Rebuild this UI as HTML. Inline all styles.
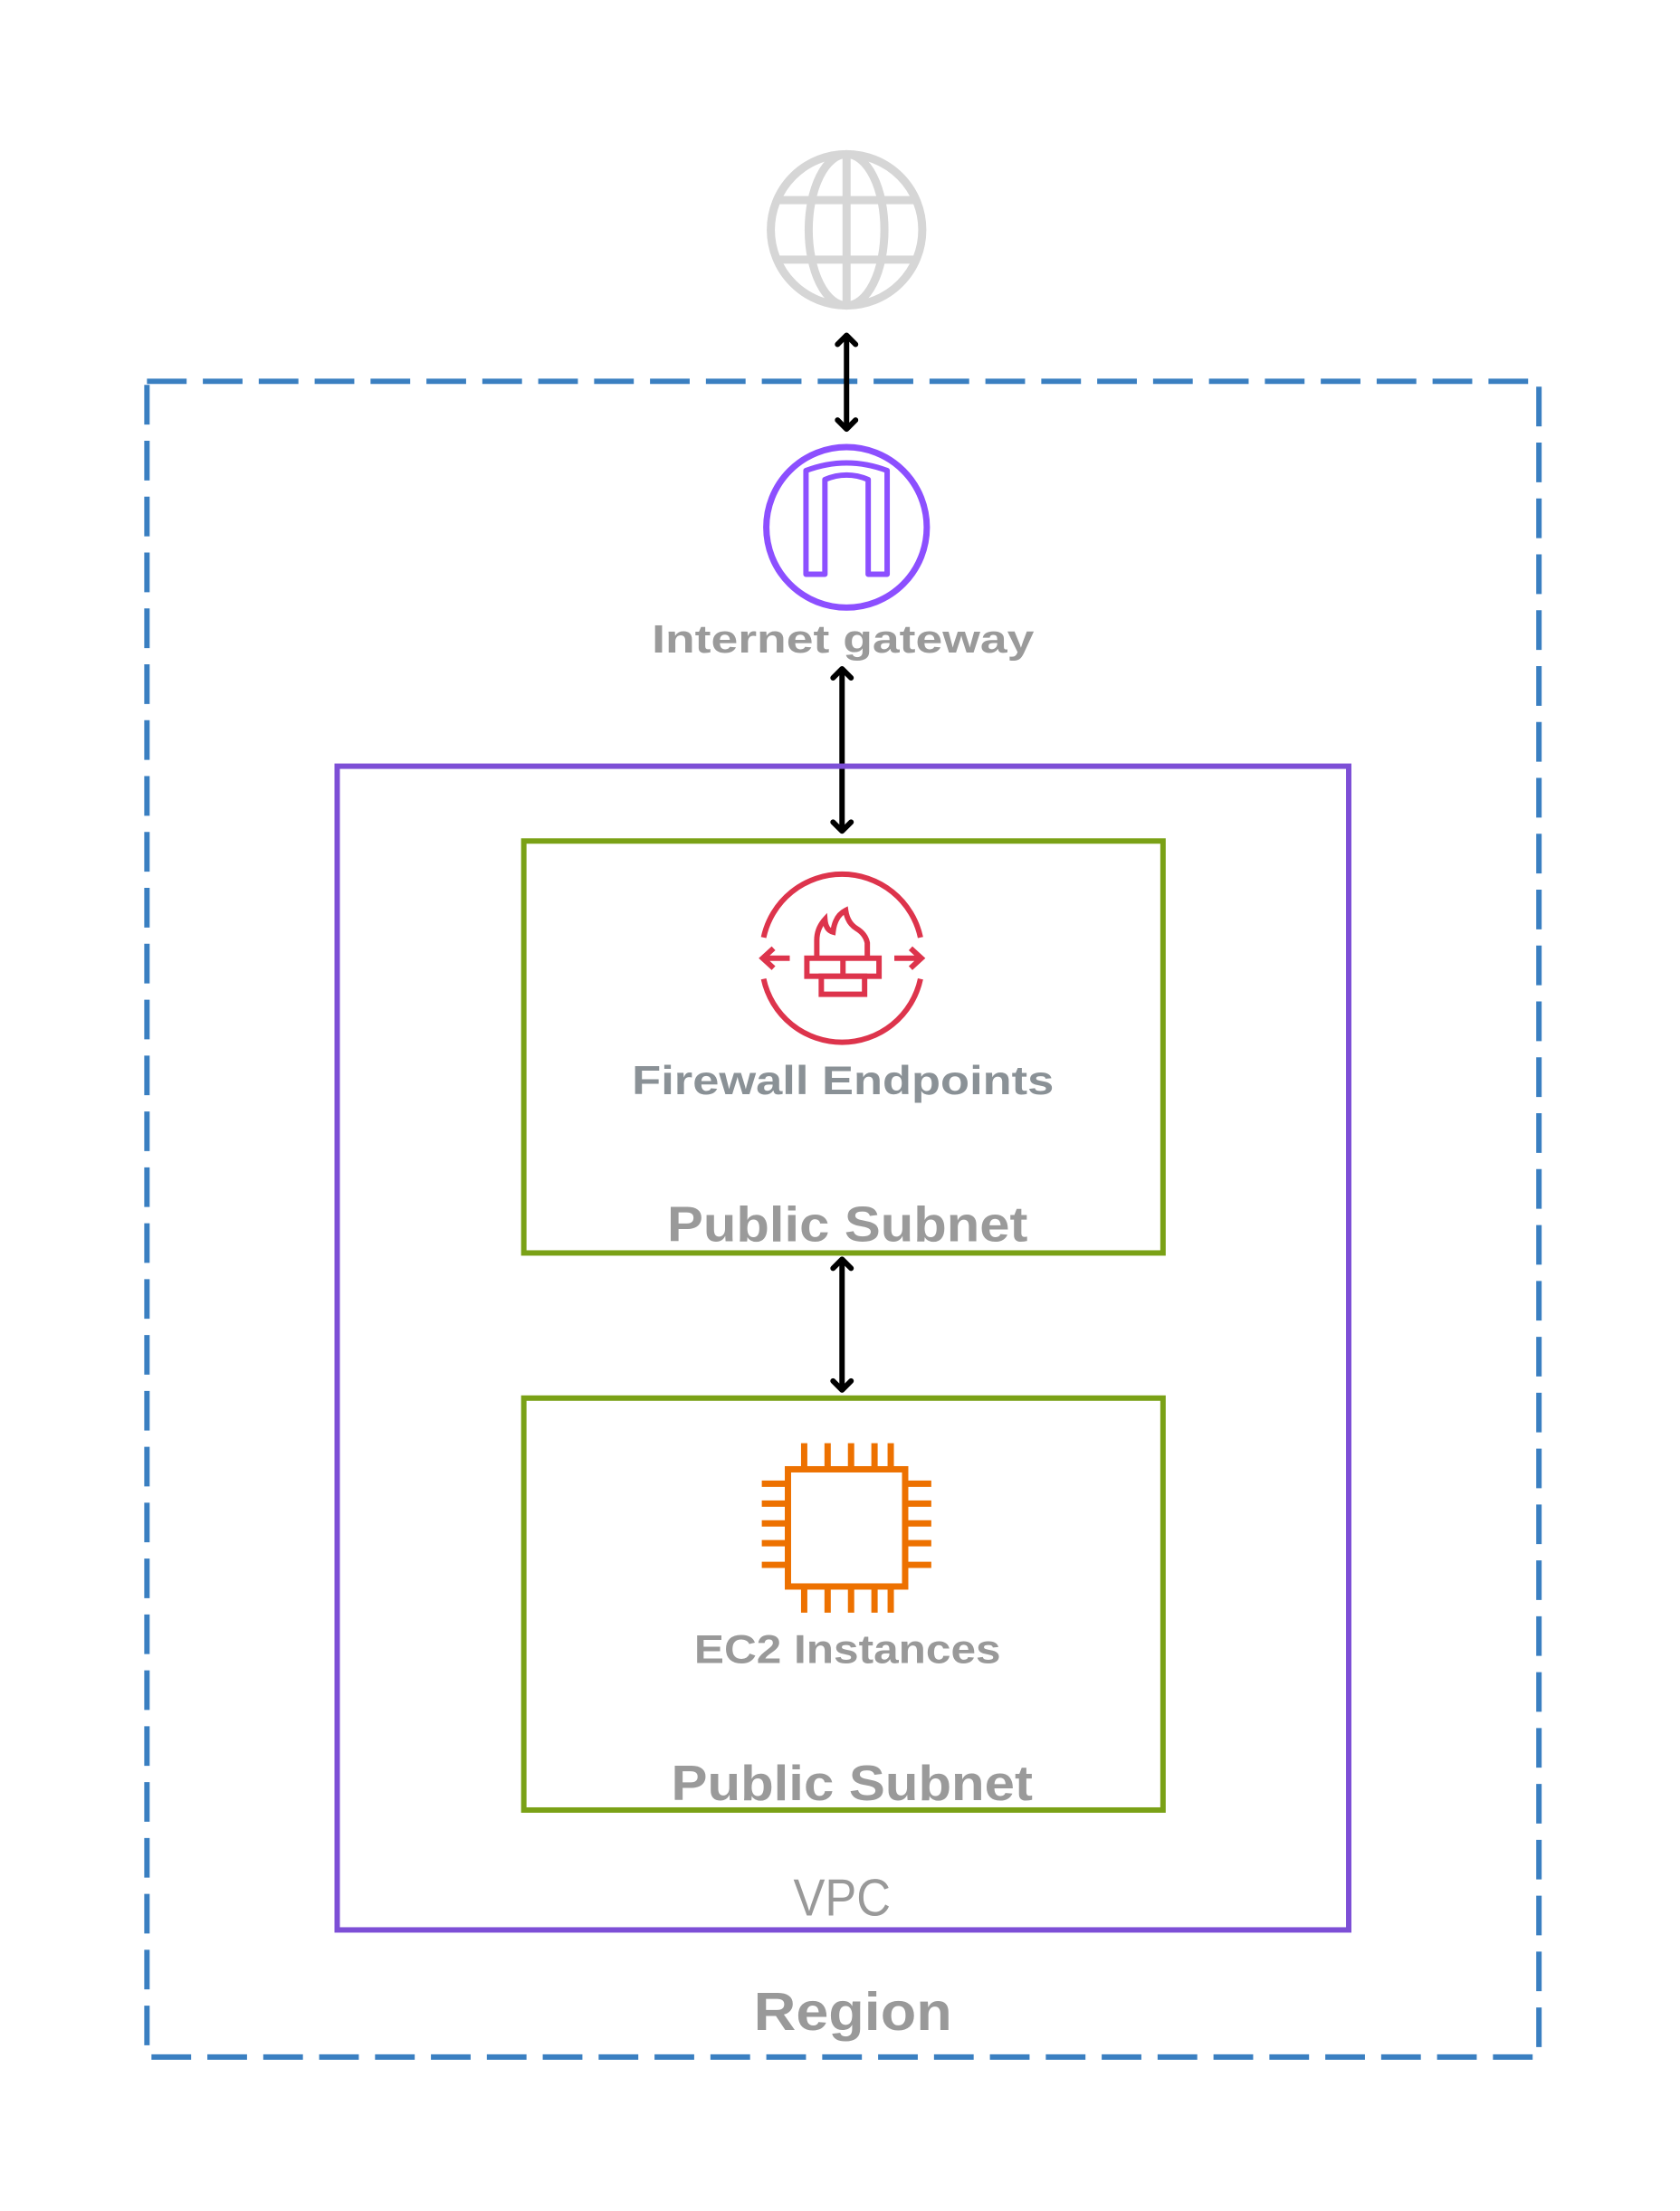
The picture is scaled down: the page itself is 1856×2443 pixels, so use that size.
<!DOCTYPE html>
<html><head><meta charset="utf-8"><style>
html,body{margin:0;padding:0;background:#fff;}
svg{display:block;}
text{font-family:"Liberation Sans",sans-serif;font-weight:bold;text-anchor:middle;}
</style></head><body>
<svg width="1856" height="2443" viewBox="0 0 1856 2443" xmlns="http://www.w3.org/2000/svg">
<defs>
<marker id="ah" viewBox="0 0 30 30" refX="16" refY="15" markerWidth="30" markerHeight="30" markerUnits="userSpaceOnUse" orient="auto-start-reverse">
<path d="M6,5 L16,15 L6,25" fill="none" stroke="#000" stroke-width="6" stroke-linecap="round" stroke-linejoin="round"/>
</marker>
</defs>
<g transform="scale(0.996)">
<!-- Region -->
<rect x="163" y="423" width="1544" height="1859" fill="none" stroke="#3a7fc1" stroke-width="6" stroke-dasharray="44 18"/>
<!-- Globe -->
<g fill="none" stroke="#d6d6d6" stroke-width="9">
<circle cx="939" cy="255" r="84"/>
<ellipse cx="939" cy="255" rx="42" ry="84"/>
<line x1="939" y1="171" x2="939" y2="339"/>
<line x1="862" y1="222" x2="1016" y2="222"/>
<line x1="862" y1="288" x2="1016" y2="288"/>
</g>
<!-- arrow 1 -->
<line x1="939" y1="372" x2="939" y2="476" stroke="#000" stroke-width="6" marker-start="url(#ah)" marker-end="url(#ah)"/>
<!-- IGW -->
<circle cx="939" cy="585" r="89" fill="none" stroke="#8c4fff" stroke-width="7"/>
<path d="M894,637 V522 Q939,505 984,522 V637 H963 V532 Q939,522 915,532 V637 Z" fill="none" stroke="#8c4fff" stroke-width="6" stroke-linejoin="round"/>
<text x="935" y="724" font-size="44" fill="#9a9a9a" textLength="424" lengthAdjust="spacingAndGlyphs">Internet gateway</text>
<!-- arrow 2 -->
<line x1="934" y1="742" x2="934" y2="922" stroke="#000" stroke-width="6" marker-start="url(#ah)" marker-end="url(#ah)"/>
<!-- VPC -->
<rect x="374" y="850" width="1122" height="1291" fill="none" stroke="#7d4fd6" stroke-width="6"/>
<text x="934" y="2125" font-size="58" font-weight="normal" style="font-weight:normal" fill="#999" textLength="108" lengthAdjust="spacingAndGlyphs">VPC</text>
<!-- Subnet 1 -->
<rect x="581" y="933" width="709" height="457" fill="none" stroke="#7aa116" stroke-width="6"/>
<g fill="none" stroke="#dd344c" stroke-width="6">
<path d="M847,1040 A89,89 0 0 1 1021,1040"/>
<path d="M847,1086 A89,89 0 0 0 1021,1086"/>
<path d="M845,1063 H876 M858,1052 L846,1063 L858,1074"/>
<path d="M992,1063 H1023 M1010,1052 L1022,1063 L1010,1074"/>
<rect x="895" y="1063" width="80" height="20"/>
<rect x="911" y="1083" width="48" height="20"/>
<line x1="935" y1="1063" x2="935" y2="1083"/>
<path d="M906,1063 V1043 Q906,1030 915,1020 Q916,1032 924,1034 Q926,1016 938,1010 Q940,1024 950,1030 Q960,1036 962,1046 V1063"/>
</g>
<text x="935" y="1214" font-size="45" fill="#8a9196" textLength="468" lengthAdjust="spacingAndGlyphs">Firewall Endpoints</text>
<text x="940" y="1377" font-size="55" fill="#9a9a9a" textLength="400" lengthAdjust="spacingAndGlyphs">Public Subnet</text>
<!-- arrow 3 -->
<line x1="934" y1="1397" x2="934" y2="1542" stroke="#000" stroke-width="6" marker-start="url(#ah)" marker-end="url(#ah)"/>
<!-- Subnet 2 -->
<rect x="581" y="1551" width="709" height="457" fill="none" stroke="#7aa116" stroke-width="6"/>
<g fill="none" stroke="#ed7100" stroke-width="7">
<rect x="874" y="1630" width="130" height="130"/>
<path d="M892,1601 V1630 M918,1601 V1630 M944,1601 V1630 M970,1601 V1630 M988,1601 V1630"/>
<path d="M892,1760 V1789 M918,1760 V1789 M944,1760 V1789 M970,1760 V1789 M988,1760 V1789"/>
<path d="M845,1646 H874 M845,1668 H874 M845,1690 H874 M845,1712 H874 M845,1736 H874"/>
<path d="M1004,1646 H1033 M1004,1668 H1033 M1004,1690 H1033 M1004,1712 H1033 M1004,1736 H1033"/>
</g>
<text x="940" y="1845" font-size="45" fill="#999" textLength="340" lengthAdjust="spacingAndGlyphs">EC2 Instances</text>
<text x="945" y="1997" font-size="55" fill="#9a9a9a" textLength="401" lengthAdjust="spacingAndGlyphs">Public Subnet</text>
<!-- Region label -->
<text x="946" y="2252" font-size="60" fill="#999" textLength="220" lengthAdjust="spacingAndGlyphs">Region</text>
</g>
</svg>
</body></html>
